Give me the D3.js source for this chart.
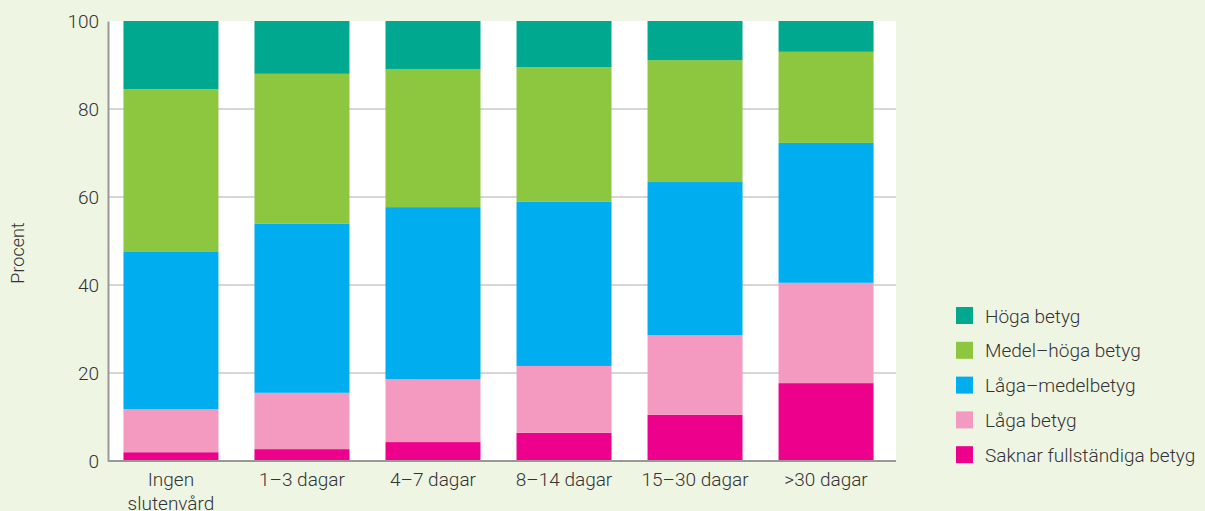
<!DOCTYPE html>
<html>
<head>
<meta charset="utf-8">
<script src="https://cdn.jsdelivr.net/npm/d3@7"></script>
<style>
  body { margin: 0; background: #eff5e3; }
  text { font-family: Roboto, "Noto Sans", sans-serif; font-weight: 300; fill: #333; }
</style>
</head>
<body>
<div id="chart"></div>
<script>
// categories (x axis) and series, bottom to top
const categories = ["Ingen slutenvård", "1–3 dagar", "4–7 dagar", "8–14 dagar", "15–30 dagar", ">30 dagar"];
const seriesNames = ["Saknar fullständiga betyg", "Låga betyg", "Låga–medelbetyg", "Medel–höga betyg", "Höga betyg"];
const seriesColors = ["#ec008c", "#f49ac1", "#00aeef", "#8dc63f", "#00a88f"];

const saknar   = [2.0, 2.7, 4.3, 6.4, 10.5, 17.7];
const laga     = [9.8, 12.8, 14.3, 15.2, 18.1, 22.8];
const lagaMed  = [35.7, 38.4, 39.1, 37.3, 34.8, 31.8];
const medelHog = [37.0, 34.1, 31.4, 30.6, 27.7, 20.7];
const hoga     = [15.5, 12.0, 10.9, 10.5, 8.9, 7.0];

const yTicks = [0, 20, 40, 60, 80, 100];

const width = 1205, height = 511;
const margin = {top: 21, right: 309, bottom: 50, left: 108};
const plotRight = width - margin.right;

const table = categories.map((c, i) => ({
  cat: c,
  [seriesNames[0]]: saknar[i],
  [seriesNames[1]]: laga[i],
  [seriesNames[2]]: lagaMed[i],
  [seriesNames[3]]: medelHog[i],
  [seriesNames[4]]: hoga[i]
}));

const stack = d3.stack().keys(seriesNames)(table);

const x = d3.scaleBand()
  .domain(categories)
  .range([margin.left, plotRight - 7])
  .paddingInner(0.275)
  .paddingOuter(0.118);

const y = d3.scaleLinear()
  .domain([0, 100])
  .range([height - margin.bottom, margin.top]);

const color = d3.scaleOrdinal().domain(seriesNames).range(seriesColors);

const svg = d3.select("#chart").append("svg")
  .attr("width", width)
  .attr("height", height);

// plot background
svg.append("rect")
  .attr("x", margin.left)
  .attr("y", margin.top)
  .attr("width", plotRight - margin.left)
  .attr("height", height - margin.bottom - margin.top)
  .attr("fill", "#fff");

// gridlines
svg.append("g")
  .selectAll("line")
  .data(yTicks.filter(d => d > 0 && d < 100))
  .join("line")
  .attr("x1", margin.left)
  .attr("x2", plotRight)
  .attr("y1", d => y(d))
  .attr("y2", d => y(d))
  .attr("stroke", "#c8c8c8")
  .attr("stroke-width", 1.5);

// bars
svg.append("g")
  .selectAll("g")
  .data(stack)
  .join("g")
  .attr("fill", d => color(d.key))
  .selectAll("rect")
  .data(d => d)
  .join("rect")
  .attr("x", d => x(d.data.cat))
  .attr("width", x.bandwidth())
  .attr("y", d => y(d[1]))
  .attr("height", d => y(d[0]) - y(d[1]));

// y axis
const yAxis = svg.append("g")
  .attr("transform", `translate(${margin.left},0)`)
  .call(d3.axisLeft(y).tickValues(yTicks).tickSize(0).tickPadding(9));
yAxis.select(".domain").attr("stroke", "#999").attr("stroke-width", 2);
yAxis.selectAll("text").style("font-size", "19px").attr("fill", "#333");

// x axis
const xAxis = svg.append("g")
  .attr("transform", `translate(0,${height - margin.bottom})`)
  .call(d3.axisBottom(x).tickSize(0).tickPadding(0));
xAxis.select(".domain").attr("stroke", "#999").attr("stroke-width", 2)
  .attr("d", `M${margin.left},0H${plotRight}`);
xAxis.selectAll(".tick text").remove();
xAxis.selectAll(".tick").each(function(d) {
  const words = d === "Ingen slutenvård" ? ["Ingen", "slutenvård"] : [d];
  const t = d3.select(this).append("text")
    .attr("text-anchor", "middle")
    .style("font-size", "19px")
    .attr("fill", "#333");
  t.selectAll("tspan")
    .data(words)
    .join("tspan")
    .attr("x", 0)
    .attr("y", (w, i) => 25 + i * 24)
    .text(w => w);
});

// y title
svg.append("text")
  .attr("transform", "translate(24,253) rotate(-90)")
  .attr("text-anchor", "middle")
  .style("font-size", "18px")
  .text("Procent");

// legend (top to bottom: Höga first)
const legendItems = seriesNames.slice().reverse();
const legend = svg.append("g")
  .attr("transform", "translate(956,307)")
  .selectAll("g")
  .data(legendItems)
  .join("g")
  .attr("transform", (d, i) => `translate(0,${i * 34.8})`);

legend.append("rect")
  .attr("width", 17)
  .attr("height", 17)
  .attr("fill", d => color(d));

legend.append("text")
  .attr("x", 29)
  .attr("y", 9)
  .attr("dy", "0.35em")
  .style("font-size", "19px")
  .text(d => d);
</script>
</body>
</html>
